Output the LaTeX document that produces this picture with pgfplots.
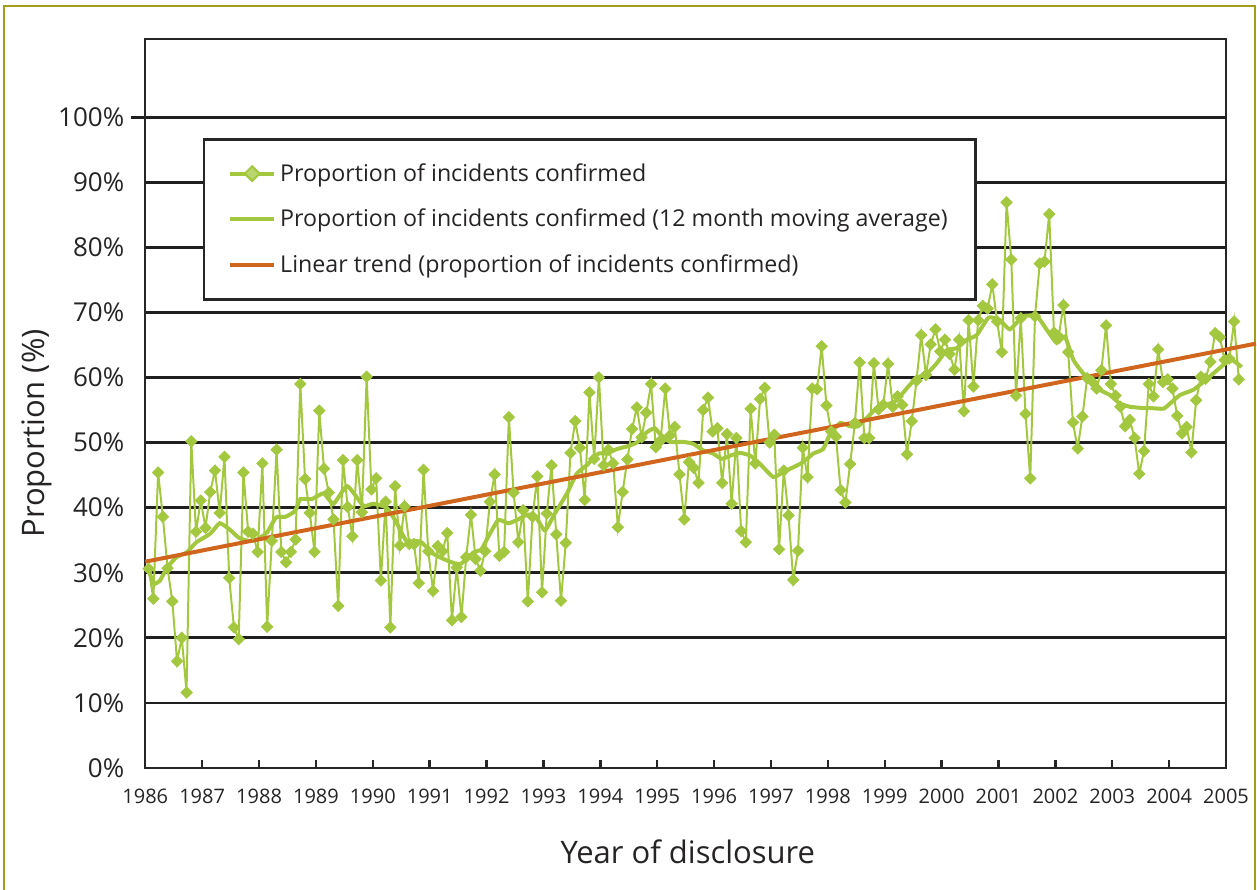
\documentclass[border=0pt]{standalone}
\usepackage{pgfplots}
\pgfplotsset{compat=1.18}
\usepackage{fontspec}
\setmainfont{Open Sans}
\definecolor{lgreen}{HTML}{A3C83F}
\definecolor{ltrend}{HTML}{D0661E}
\definecolor{frameol}{HTML}{A39E1A}
\definecolor{txt}{HTML}{262324}
\begin{document}
\begin{tikzpicture}[x=1pt,y=1pt]
\useasboundingbox (-72.65,-60.5) rectangle (555.85,384);
\draw[frameol, line width=1pt] (-70.65,-64) -- (-70.65,381) -- (555.0,381) -- (555.0,-64);
\begin{axis}[
  at={(0,0)}, anchor=south west,
  scale only axis, width=540.35pt, height=364.5pt,
  xmin=-0.7, xmax=227.3, ymin=0, ymax=112,
  clip=false,
  axis line style={line width=1.2pt, draw=black!85},
  xtick={-0.7,11.3,23.3,35.3,47.3,59.3,71.3,83.3,95.3,107.3,119.3,131.3,143.3,155.3,167.3,179.3,191.3,203.3,215.3,227.3},
  xticklabels={1986,1987,1988,1989,1990,1991,1992,1993,1994,1995,1996,1997,1998,1999,2000,2001,2002,2003,2004,2005},
  ytick={0,10,20,30,40,50,60,70,80,90,100},
  yticklabels={0\%,10\%,20\%,30\%,40\%,50\%,60\%,70\%,80\%,90\%,100\%},
  xtick pos=bottom, ytick pos=left,
  tick align=inside, major tick length=4pt,
  xtick style={line width=1.2pt, draw=black!85},
  ytick style={draw=none},
  ymajorgrids,
  major grid style={line width=1.4pt, draw=black!88, shorten <=-7pt},
  xticklabel style={font=\fontsize{10}{12}\selectfont, text=txt, yshift=-7pt},
  yticklabel style={font=\fontsize{13}{15}\selectfont, text=txt, xshift=-7pt},
  xlabel={Year of disclosure},
  ylabel={Proportion (\%)},
  every axis x label/.style={at={(axis description cs:0.502,-0.115)}, anchor=center, font=\fontsize{15.5}{18}\selectfont, text=txt},
  every axis y label/.style={at={(axis description cs:-0.100,0.459)}, anchor=center, rotate=90, font=\fontsize{15.5}{18}\selectfont, text=txt},
  legend style={at={(0.0534,0.864)}, anchor=north west, draw=black!85, line width=1.2pt,
    inner xsep=12pt, inner ysep=10pt, row sep=8.5pt, font=\fontsize{11.6}{13}\selectfont, text=txt,
    /tikz/every even column/.append style={column sep=4pt}},
  legend cell align=left,
  legend image code/.code={\draw[mark repeat=2,mark phase=2,#1] plot coordinates {(0pt,0pt) (11pt,0pt) (22pt,0pt)};},
]
\addplot[color=lgreen, line width=1pt, mark=square*, mark size=2.0pt,
  mark options={rotate=45, fill=lgreen, draw=lgreen, line width=0.4pt},
  legend image post style={line width=2pt, mark size=2.6pt, mark options={rotate=45, fill=lgreen!75!white, draw=lgreen, line width=1pt}}] coordinates {
(0,30.6) (1,26.0) (2,45.4) (3,38.6) (4,30.7) (5,25.6) (6,16.4) (7,20.0) (8,11.6) (9,50.2)
(10,36.3) (11,41.1) (12,36.9) (13,42.4) (14,45.7) (15,39.2) (16,47.8) (17,29.2) (18,21.6) (19,19.8)
(20,45.4) (21,36.3) (22,36.0) (23,33.2) (24,46.8) (25,21.7) (26,34.9) (27,48.9) (28,33.2) (29,31.6)
(30,33.2) (31,35.1) (32,59.0) (33,44.4) (34,39.2) (35,33.2) (36,54.9) (37,46.0) (38,42.3) (39,38.2)
(40,24.9) (41,47.3) (42,40.1) (43,35.6) (44,47.3) (45,39.3) (46,60.1) (47,42.8) (48,44.5) (49,28.8)
(50,40.9) (51,21.6) (52,43.3) (53,34.2) (54,40.2) (55,34.4) (56,34.4) (57,28.4) (58,45.8) (59,33.3)
(60,27.2) (61,34.1) (62,33.3) (63,36.1) (64,22.7) (65,30.8) (66,23.2) (67,32.4) (68,38.9) (69,32.1)
(70,30.3) (71,33.3) (72,40.9) (73,45.1) (74,32.6) (75,33.2) (76,53.9) (77,42.3) (78,34.7) (79,39.6)
(80,25.6) (81,38.6) (82,44.8) (83,27.0) (84,39.1) (85,46.5) (86,35.9) (87,25.7) (88,34.6) (89,48.4)
(90,53.3) (91,49.2) (92,41.2) (93,57.7) (94,47.5) (95,60.0) (96,46.5) (97,48.9) (98,46.8) (99,37.0)
(100,42.4) (101,47.4) (102,52.1) (103,55.4) (104,50.8) (105,54.6) (106,59.0) (107,49.3) (108,50.3) (109,58.3)
(110,51.1) (111,52.4) (112,45.1) (113,38.2) (114,47.0) (115,46.1) (116,43.8) (117,55.0) (118,56.9) (119,51.7)
(120,52.2) (121,43.8) (122,51.3) (123,40.6) (124,50.7) (125,36.4) (126,34.7) (127,55.2) (128,46.8) (129,56.7)
(130,58.4) (131,50.0) (132,51.2) (133,33.6) (134,45.7) (135,38.8) (136,28.9) (137,33.4) (138,49.2) (139,44.7)
(140,58.3) (141,58.2) (142,64.8) (143,55.7) (144,51.7) (145,50.9) (146,42.7) (147,40.8) (148,46.7) (149,53.0)
(150,62.3) (151,50.7) (152,50.7) (153,62.2) (154,55.1) (155,55.8) (156,62.1) (157,55.5) (158,57.1) (159,55.8)
(160,48.2) (161,53.3) (162,59.5) (163,66.5) (164,60.4) (165,65.1) (166,67.4) (167,64.0) (168,65.8) (169,63.6)
(170,61.2) (171,65.8) (172,54.8) (173,68.8) (174,58.6) (175,68.8) (176,71.0) (177,70.6) (178,74.3) (179,68.6)
(180,63.9) (181,86.9) (182,78.1) (183,57.2) (184,69.1) (185,54.4) (186,44.5) (187,69.4) (188,77.5) (189,77.8)
(190,85.1) (191,66.9) (192,66.3) (193,71.1) (194,63.9) (195,53.1) (196,49.1) (197,54.0) (198,59.9) (199,59.4)
(200,58.3) (201,61.1) (202,68.0) (203,59.0) (204,57.2) (205,55.5) (206,52.5) (207,53.5) (208,50.7) (209,45.2)
(210,48.7) (211,59.0) (212,57.1) (213,64.3) (214,59.3) (215,59.7) (216,58.3) (217,54.1) (218,51.4) (219,52.4)
(220,48.5) (221,56.5) (222,60.1) (223,59.8) (224,62.4) (225,66.8) (226,66.2) (227,62.7) (228,62.9) (229,68.6)
(230,59.7)
};
\addlegendentry{Proportion of incidents confirmed}
\addplot[color=lgreen, line width=2pt, smooth, tension=0.3] coordinates {
(0,30.6) (1.0,28.3) (2.4,28.8) (3.9,30.8) (5.9,32.4) (8.0,33.1) (10.1,34.7) (13.0,36.0) (15.0,37.6) (17.0,36.7)
(19.0,35.4) (21.0,34.9) (22.9,35.1) (25.0,36.2) (26.9,38.5) (28.9,38.6) (30.9,39.5) (32.0,41.3) (34.4,41.3) (36.9,42.2)
(39.0,40.6) (41.9,43.3) (45.3,40.3) (47.4,40.6) (50.2,40.0) (52.3,37.7) (54.4,34.9) (57.3,34.8) (60.1,32.9) (62.9,31.9)
(65.7,31.3) (68.5,33.1) (70.2,33.6) (72.0,36.0) (73.8,38.1) (75.9,37.6) (77.7,38.1) (79.8,38.9) (81.5,38.8) (83.6,36.5)
(85.7,39.1) (88.2,42.1) (90.3,45.2) (92.4,46.5) (94.9,48.3) (96.6,48.3) (98.8,49.0) (100.9,49.4) (103.0,50.0) (105.1,51.6)
(106.8,52.2) (107.9,51.3) (110.0,50.1) (112.8,50.1) (114.9,49.8) (117.0,48.8) (119.1,48.3) (120.9,47.5) (122.7,48.0) (124.8,48.4)
(126.9,48.0) (129.0,46.7) (131.8,44.7) (133.9,45.5) (136.0,46.2) (138.1,47.0) (140.2,48.3) (142.3,49.0) (143.7,51.2) (145.9,53.0)
(148.0,52.5) (149.7,52.5) (151.8,54.0) (153.9,55.5) (155.7,55.8) (157.8,56.5) (159.9,58.3) (162.0,59.9) (164.2,60.6) (166.3,62.2)
(168.4,64.2) (170.5,64.5) (172.6,65.8) (174.7,66.5) (177.2,69.2) (179.6,68.8) (181.7,67.4) (184.5,69.4) (187.4,69.4) (189.5,67.3)
(191.6,65.3) (193.3,66.3) (195.1,62.7) (197.2,60.6) (199.3,59.6) (200.7,58.1) (202.8,57.3) (204.9,56.0) (207.0,55.5) (209.8,55.3)
(211.3,55.3) (214.1,55.2) (215.5,56.0) (217.6,57.3) (220.4,58.1) (222.5,59.3) (224.6,60.6) (226.7,61.9) (228.5,62.7) (230.6,61.6)
};
\addlegendentry{Proportion of incidents confirmed (12 month moving average)}
\addplot[color=ltrend, line width=2pt] coordinates {(-0.7,31.7) (233.6,65.2)};
\addlegendentry{Linear trend (proportion of incidents confirmed)}
\end{axis}
\end{tikzpicture}
\end{document}
